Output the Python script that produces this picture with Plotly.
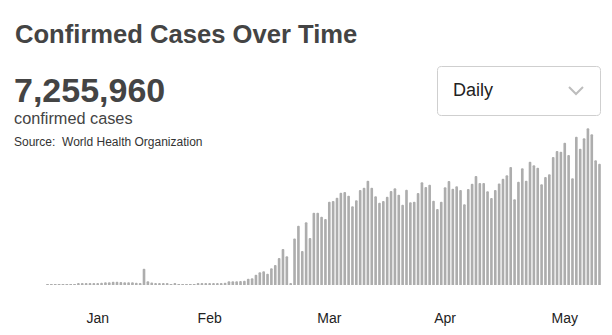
import pandas as pd
import plotly.graph_objects as go

# ---- data (daily new confirmed cases, thousands) ----
start_date = "2020-01-19"
daily_cases_k = [
    0.2, 0.3, 0.3, 0.3, 0.4, 0.5, 0.6, 0.7, 0.9, 1.0, 1.2, 1.4, 1.6,            # Jan 19 - Jan 31
    1.8, 2.0, 2.3, 2.5, 2.8, 2.9, 2.6, 2.5, 2.3, 2.3, 2.0, 1.7, 14.2, 3.2,      # Feb 1 - Feb 14
    2.1, 1.8, 1.7, 1.6, 1.4, 0.7, 0.9, 0.5, 0.4, 0.4, 0.6, 0.7, 0.9, 1.0, 1.1,  # Feb 15 - Feb 29
    1.5, 1.5, 1.5, 1.6, 2.0, 3.2, 3.2, 3.2, 3.5, 3.7, 5.5, 5.8, 9.0, 11.0,      # Mar 1 - Mar 14
    11.9, 9.8, 14.5, 17.4, 23.5, 31.3, 25.0, 1.1, 40.5, 51.6, 29.6, 54.5,       # Mar 15 - Mar 26
    40.9, 62.9, 62.9, 59.4, 57.4,                                               # Mar 27 - Mar 31
    72.5, 73.1, 76.0, 80.3, 80.9, 77.7, 68.5, 73.7, 82.7, 84.7, 90.7, 84.7,     # Apr 1 - Apr 12
    77.2, 71.6, 73.1, 76.8, 81.8, 84.2, 78.6, 69.9, 82.9, 71.9, 72.5, 80.0,     # Apr 13 - Apr 24
    89.3, 85.3, 87.3, 73.3, 66.1, 72.5,                                         # Apr 25 - Apr 30
    85.0, 90.5, 83.8, 85.9, 82.7, 70.2, 83.5, 88.1, 94.8, 88.7, 88.7, 81.5,     # May 1 - May 12
    75.7, 82.7, 88.3, 92.5, 95.4, 102.7, 74.6, 89.9, 101.5, 90.7, 107.3, 104.1, # May 13 - May 24
    102.1, 87.6, 94.0, 96.3, 111.4, 116.6, 116.0,                               # May 25 - May 31
    123.8, 113.1, 92.8, 129.0, 118.6, 127.6, 136.3, 131.1, 108.5, 105.5,        # Jun 1 - Jun 10
]
month_ticks = ["2020-02-01", "2020-03-01", "2020-04-01", "2020-05-01", "2020-06-01"]
month_labels = ["Jan", "Feb", "Mar", "Apr", "May"]
total_cases = "7,255,960"
title_text = "Confirmed Cases Over Time"
subtitle_text = "confirmed cases"
source_text = "Source:\u00a0 World Health Organization"
dropdown_text = "Daily"

dates = pd.date_range(start_date, periods=len(daily_cases_k), freq="D")

# ---- layout helpers ----
W, H = 612, 335
M_T, M_B = 125, 50
PH = H - M_T - M_B


def px(x):
    return x / W


def py(y):
    return (H - M_B - y) / PH


FONT = "Liberation Sans, Arial, Helvetica, sans-serif"
DARK = "#444444"

fig = go.Figure()
fig.add_trace(go.Bar(
    x=dates, y=daily_cases_k,
    marker=dict(color="#adadad", cornerradius=1.3, line=dict(width=0)),
    hoverinfo="skip",
))

base = pd.Timestamp("2020-02-01")
x_lo = base + pd.Timedelta(days=-25.31)
x_hi = base + pd.Timedelta(days=133.24)

annotations = [
    dict(text="<b>" + title_text + "</b>", x=px(12.5), y=py(34), xanchor="left", yanchor="middle",
         font=dict(size=25.6, color=DARK, family=FONT)),
    dict(text="<b>" + total_cases + "</b>", x=px(11.5), y=py(89.5), xanchor="left", yanchor="middle",
         font=dict(size=34, color=DARK, family=FONT)),
    dict(text=subtitle_text, x=px(12), y=py(117.5), xanchor="left", yanchor="middle",
         font=dict(size=16.3, color=DARK, family=FONT)),
    dict(text=source_text, x=px(12), y=py(141.5), xanchor="left", yanchor="middle",
         font=dict(size=12, color="#333333", family=FONT)),
    dict(text=dropdown_text, x=px(450.5), y=py(90), xanchor="left", yanchor="middle",
         font=dict(size=18, color="#222222", family=FONT)),
]
for a in annotations:
    a.update(xref="paper", yref="paper", showarrow=False)

# rounded dropdown box
x0, x1, y0, y1, r = 437.5, 600.5, 66.5, 115.5, 4


def P(x, y):
    return f"{px(x):.5f},{py(y):.5f}"


box_path = (f"M {P(x0 + r, y0)} L {P(x1 - r, y0)} Q {P(x1, y0)} {P(x1, y0 + r)} "
            f"L {P(x1, y1 - r)} Q {P(x1, y1)} {P(x1 - r, y1)} "
            f"L {P(x0 + r, y1)} Q {P(x0, y1)} {P(x0, y1 - r)} "
            f"L {P(x0, y0 + r)} Q {P(x0, y0)} {P(x0 + r, y0)} Z")
chev_path = f"M {P(569, 87)} L {P(576, 94)} L {P(583, 87)}"

shapes = [
    dict(type="path", path=box_path, xref="paper", yref="paper",
         line=dict(color="#cfcfcf", width=1), fillcolor="white"),
    dict(type="path", path=chev_path, xref="paper", yref="paper",
         line=dict(color="#bdbdbd", width=2)),
]

fig.update_layout(
    width=W, height=H,
    margin=dict(l=0, r=0, t=M_T, b=M_B, pad=0),
    paper_bgcolor="white", plot_bgcolor="white",
    showlegend=False,
    bargap=0.32,
    annotations=annotations,
    shapes=shapes,
    xaxis=dict(type="date", range=[x_lo, x_hi], tickvals=month_ticks, ticktext=month_labels,
               showgrid=False, zeroline=False, showline=False, ticks="",
               tickfont=dict(size=14, color="#222222", family=FONT), ticklabelstandoff=23),
    yaxis=dict(range=[0, PH * 0.87], visible=False, showgrid=False, zeroline=False),
)

fig.write_html("out.html")
